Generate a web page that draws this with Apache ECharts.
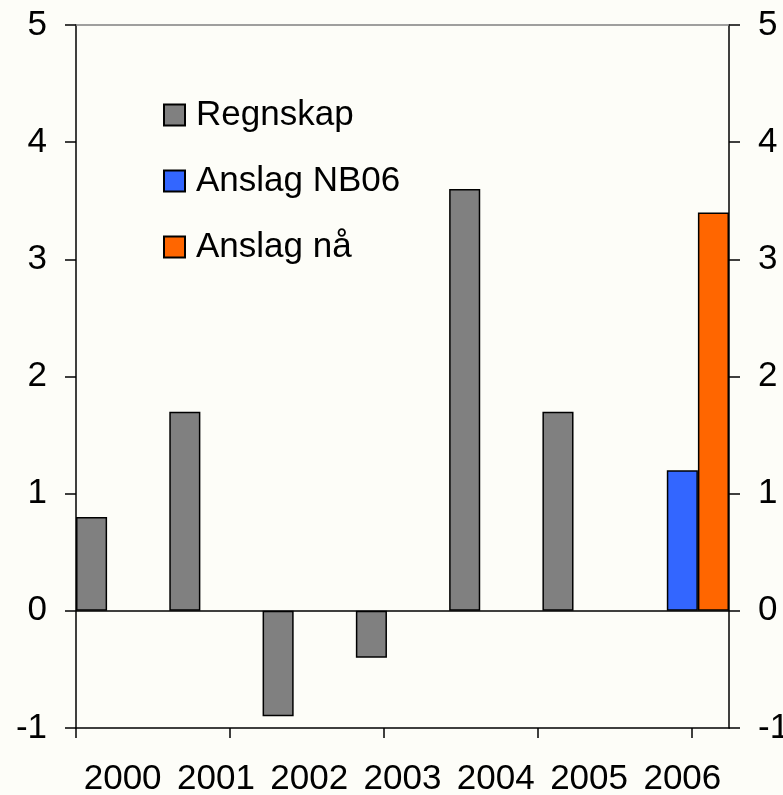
<!DOCTYPE html>
<html>
<head>
<meta charset="utf-8">
<script src="https://cdn.jsdelivr.net/npm/echarts@6/dist/echarts.min.js"></script>
<style>
  html, body { margin: 0; padding: 0; background: #fdfdf8; }
  #chart { width: 783px; height: 795px; }
</style>
</head>
<body>
<div id="chart"></div>
<script>
const years = ["2000", "2001", "2002", "2003", "2004", "2005", "2006"];
const regnskap = [0.8, 1.7, -0.9, -0.4, 3.6, 1.7, null];
const anslagNB06 = [null, null, null, null, null, null, 1.2];
const anslagNaa = [null, null, null, null, null, null, 3.4];

// bottom axis has its own tick spacing (every 1.65 categories)
const tickSlots = Array.from({ length: 141 }, () => "");
const tickEvery = 33;

const chart = echarts.init(document.getElementById("chart"));

const font = "Liberation Sans, Arial, sans-serif";
const black = "#000";

const valueAxis = (position) => ({
  type: "value",
  position: position,
  min: -1,
  max: 5,
  interval: 1,
  splitLine: { show: false },
  axisLine: { show: true, lineStyle: { color: black, width: 1.5 } },
  axisTick: { show: true, length: 11, lineStyle: { color: black, width: 1.5 } },
  axisLabel: {
    color: black,
    fontSize: 35,
    fontFamily: font,
    margin: 29,
  },
});

const barBorder = { borderColor: black, borderWidth: 1.5 };

chart.setOption({
  backgroundColor: "#fdfdf8",
  animation: false,
  grid: { left: 76, right: 54, top: 25, bottom: 67, outerBoundsMode: "none", containLabel: false },
  legend: {
    orient: "vertical",
    left: 163,
    top: 97,
    padding: 0,
    icon: "rect",
    itemWidth: 21,
    itemHeight: 21,
    itemGap: 30,
    textStyle: {
      fontSize: 35,
      fontFamily: font,
      color: black,
      lineHeight: 36,
      padding: [0, 0, 0, 6],
    },
    data: ["Regnskap", "Anslag NB06", "Anslag nå"],
  },
  xAxis: [
    {
      type: "category",
      data: years,
      position: "bottom",
      axisLine: { onZero: false, lineStyle: { color: black, width: 1.5 } },
      axisTick: { show: false },
      axisLabel: { color: black, fontSize: 35, fontFamily: font, margin: 34, interval: 0 },
    },
    {
      type: "category",
      data: tickSlots,
      position: "bottom",
      boundaryGap: false,
      axisLine: { show: false, onZero: false },
      axisTick: {
        show: true,
        length: 10,
        interval: (i) => i % tickEvery === 0,
        lineStyle: { color: black, width: 1.5 },
      },
      axisLabel: { show: false },
    },
    {
      type: "category",
      data: years,
      position: "top",
      axisLine: { onZero: false, lineStyle: { color: "#808080", width: 1.5 } },
      axisTick: { show: false },
      axisLabel: { show: false },
    },
  ],
  yAxis: [valueAxis("left"), valueAxis("right")],
  series: [
    {
      name: "Regnskap",
      type: "bar",
      data: regnskap,
      barGap: "0%",
      barCategoryGap: "0%",
      itemStyle: Object.assign({ color: "#808080" }, barBorder),
      markLine: {
        silent: true,
        symbol: "none",
        label: { show: false },
        lineStyle: { color: black, width: 1.5, type: "solid" },
        data: [{ yAxis: 0 }],
      },
    },
    {
      name: "Anslag NB06",
      type: "bar",
      data: anslagNB06,
      barGap: "0%",
      barCategoryGap: "0%",
      itemStyle: Object.assign({ color: "#3366ff" }, barBorder),
    },
    {
      name: "Anslag nå",
      type: "bar",
      data: anslagNaa,
      barGap: "0%",
      barCategoryGap: "0%",
      itemStyle: Object.assign({ color: "#ff6600" }, barBorder),
    },
  ],
});
</script>
</body>
</html>
